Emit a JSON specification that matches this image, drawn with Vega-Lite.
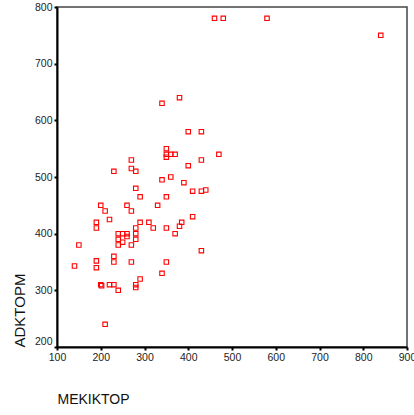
{
  "$schema": "https://vega.github.io/schema/vega-lite/v6.json",
  "width": 350,
  "height": 340,
  "autosize": {"type": "none"},
  "padding": {"left": 57, "top": 7, "right": 7, "bottom": 68},
  "background": "white",
  "config": {
    "view": {"stroke": "#444444", "strokeWidth": 1.5},
    "font": "Liberation Sans, Arial, sans-serif",
    "axis": {
      "grid": false,
      "domainColor": "#000000",
      "domainWidth": 2,
      "tickColor": "#000000",
      "tickSize": 3,
      "tickWidth": 2,
      "labelColor": "#222222",
      "labelFontSize": 10.5,
      "labelFont": "Liberation Sans, Arial, sans-serif",
      "titleFont": "Liberation Sans, Arial, sans-serif",
      "titleFontWeight": "normal",
      "titleColor": "#111111",
      "titleFontSize": 14
    }
  },
  "data": {
    "values": [
      {"MEKIKTOP": 140, "ADKTOPM": 343},
      {"MEKIKTOP": 150, "ADKTOPM": 380},
      {"MEKIKTOP": 190, "ADKTOPM": 420},
      {"MEKIKTOP": 190, "ADKTOPM": 410},
      {"MEKIKTOP": 190, "ADKTOPM": 352},
      {"MEKIKTOP": 190, "ADKTOPM": 340},
      {"MEKIKTOP": 200, "ADKTOPM": 450},
      {"MEKIKTOP": 200, "ADKTOPM": 310},
      {"MEKIKTOP": 202, "ADKTOPM": 308},
      {"MEKIKTOP": 210, "ADKTOPM": 440},
      {"MEKIKTOP": 210, "ADKTOPM": 240},
      {"MEKIKTOP": 220, "ADKTOPM": 425},
      {"MEKIKTOP": 220, "ADKTOPM": 310},
      {"MEKIKTOP": 230, "ADKTOPM": 510},
      {"MEKIKTOP": 230, "ADKTOPM": 360},
      {"MEKIKTOP": 230, "ADKTOPM": 350},
      {"MEKIKTOP": 230, "ADKTOPM": 310},
      {"MEKIKTOP": 240, "ADKTOPM": 400},
      {"MEKIKTOP": 240, "ADKTOPM": 390},
      {"MEKIKTOP": 240, "ADKTOPM": 380},
      {"MEKIKTOP": 240, "ADKTOPM": 300},
      {"MEKIKTOP": 250, "ADKTOPM": 400},
      {"MEKIKTOP": 250, "ADKTOPM": 385},
      {"MEKIKTOP": 260, "ADKTOPM": 450},
      {"MEKIKTOP": 260, "ADKTOPM": 400},
      {"MEKIKTOP": 260, "ADKTOPM": 395},
      {"MEKIKTOP": 270, "ADKTOPM": 530},
      {"MEKIKTOP": 270, "ADKTOPM": 515},
      {"MEKIKTOP": 270, "ADKTOPM": 440},
      {"MEKIKTOP": 270, "ADKTOPM": 380},
      {"MEKIKTOP": 270, "ADKTOPM": 350},
      {"MEKIKTOP": 280, "ADKTOPM": 510},
      {"MEKIKTOP": 280, "ADKTOPM": 480},
      {"MEKIKTOP": 280, "ADKTOPM": 410},
      {"MEKIKTOP": 280, "ADKTOPM": 400},
      {"MEKIKTOP": 280, "ADKTOPM": 390},
      {"MEKIKTOP": 280, "ADKTOPM": 310},
      {"MEKIKTOP": 280, "ADKTOPM": 305},
      {"MEKIKTOP": 290, "ADKTOPM": 465},
      {"MEKIKTOP": 290, "ADKTOPM": 420},
      {"MEKIKTOP": 290, "ADKTOPM": 320},
      {"MEKIKTOP": 310, "ADKTOPM": 420},
      {"MEKIKTOP": 320, "ADKTOPM": 410},
      {"MEKIKTOP": 330, "ADKTOPM": 450},
      {"MEKIKTOP": 340, "ADKTOPM": 630},
      {"MEKIKTOP": 340, "ADKTOPM": 495},
      {"MEKIKTOP": 340, "ADKTOPM": 330},
      {"MEKIKTOP": 350, "ADKTOPM": 550},
      {"MEKIKTOP": 350, "ADKTOPM": 540},
      {"MEKIKTOP": 350, "ADKTOPM": 535},
      {"MEKIKTOP": 350, "ADKTOPM": 465},
      {"MEKIKTOP": 350, "ADKTOPM": 410},
      {"MEKIKTOP": 350, "ADKTOPM": 350},
      {"MEKIKTOP": 360, "ADKTOPM": 540},
      {"MEKIKTOP": 360, "ADKTOPM": 500},
      {"MEKIKTOP": 370, "ADKTOPM": 540},
      {"MEKIKTOP": 370, "ADKTOPM": 400},
      {"MEKIKTOP": 380, "ADKTOPM": 640},
      {"MEKIKTOP": 380, "ADKTOPM": 413},
      {"MEKIKTOP": 385, "ADKTOPM": 420},
      {"MEKIKTOP": 390, "ADKTOPM": 490},
      {"MEKIKTOP": 400, "ADKTOPM": 580},
      {"MEKIKTOP": 400, "ADKTOPM": 520},
      {"MEKIKTOP": 410, "ADKTOPM": 475},
      {"MEKIKTOP": 410, "ADKTOPM": 430},
      {"MEKIKTOP": 430, "ADKTOPM": 580},
      {"MEKIKTOP": 430, "ADKTOPM": 530},
      {"MEKIKTOP": 430, "ADKTOPM": 475},
      {"MEKIKTOP": 430, "ADKTOPM": 370},
      {"MEKIKTOP": 440, "ADKTOPM": 477},
      {"MEKIKTOP": 470, "ADKTOPM": 540},
      {"MEKIKTOP": 460, "ADKTOPM": 780},
      {"MEKIKTOP": 480, "ADKTOPM": 780},
      {"MEKIKTOP": 580, "ADKTOPM": 780},
      {"MEKIKTOP": 840, "ADKTOPM": 750}
    ]
  },
  "mark": {
    "type": "point",
    "shape": "square",
    "filled": false,
    "size": 20,
    "color": "#ff0000",
    "strokeWidth": 1.1,
    "opacity": 1
  },
  "encoding": {
    "x": {
      "field": "MEKIKTOP",
      "type": "quantitative",
      "scale": {"domain": [100, 900], "nice": false, "zero": false},
      "axis": {
        "values": [100, 200, 300, 400, 500, 600, 700, 800, 900],
        "labelPadding": 2,
        "labelFlush": false,
        "labelOverlap": false,
        "title": "MEKIKTOP",
        "titleAnchor": "start",
        "titleAlign": "left",
        "titleBaseline": "alphabetic",
        "titleX": 0,
        "titleY": 56
      }
    },
    "y": {
      "field": "ADKTOPM",
      "type": "quantitative",
      "scale": {"domain": [200, 800], "nice": false, "zero": false},
      "axis": {
        "values": [200, 300, 400, 500, 600, 700, 800],
        "labelPadding": 2,
        "labelFlush": false,
        "labelOverlap": false,
        "labelOffset": {"condition": {"test": "datum.value === 200", "value": -6}, "value": 0},
        "title": "ADKTOPM",
        "titleAngle": -90,
        "titleFontSize": 15,
        "titleAlign": "left",
        "titleBaseline": "alphabetic",
        "titleX": -33,
        "titleY": 340
      }
    }
  }
}
